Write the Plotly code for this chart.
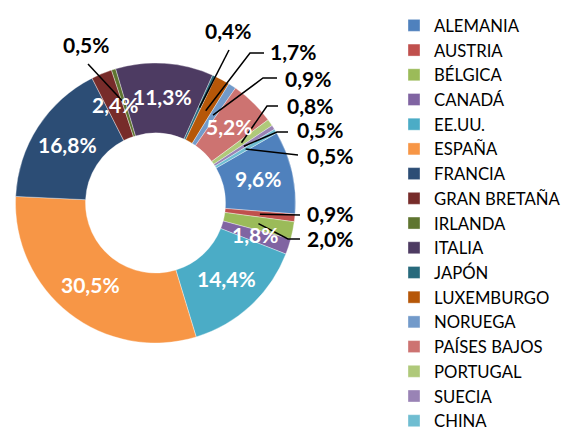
import math
import plotly.graph_objects as go

# ---- data ----
categories = ["ALEMANIA", "AUSTRIA", "BÉLGICA", "CANADÁ", "EE.UU.", "ESPAÑA", "FRANCIA",
              "GRAN BRETAÑA", "IRLANDA", "ITALIA", "JAPÓN", "LUXEMBURGO", "NORUEGA",
              "PAÍSES BAJOS", "PORTUGAL", "SUECIA", "CHINA"]
shares = [9.6, 0.9, 2.0, 1.8, 14.4, 30.5, 16.8, 2.4, 0.5, 11.3, 0.4, 1.7, 0.9, 5.2, 0.8, 0.5, 0.5]

# ---- styles / layout ----
colors = ["#4F81BD", "#C0504D", "#9BBB59", "#8064A2", "#4BACC6", "#F79646", "#2C4D75",
          "#772C2A", "#5F7530", "#4D3B62", "#276A7C", "#B65708", "#729ACA",
          "#CD7371", "#AFC97A", "#9983B5", "#6FBDD1"]
inside_labels = {"ALEMANIA", "CANADÁ", "EE.UU.", "ESPAÑA", "FRANCIA", "GRAN BRETAÑA",
                 "ITALIA", "PAÍSES BAJOS"}
# outside label layout in page pixels: text centre, then leader-line waypoints (after slice point)
outside_layout = {
    "IRLANDA":     dict(text=(86, 46),  path=[(88, 64)]),
    "JAPÓN":       dict(text=(228, 32), path=[(229, 50)]),
    "LUXEMBURGO":  dict(text=(293, 53), path=[(250, 53), (264, 53)]),
    "NORUEGA":     dict(text=(308, 80), path=[(263, 78), (277, 78)]),
    "PORTUGAL":    dict(text=(310, 107), path=[(267, 106), (278, 106)]),
    "SUECIA":      dict(text=(320, 131), path=[(277, 132), (288, 132)]),
    "CHINA":       dict(text=(330, 157), path=[(298, 155)]),
    "AUSTRIA":     dict(text=(330, 215), path=[(300, 215)]),
    "BÉLGICA":     dict(text=(330, 240), path=[(288, 239), (300, 239)]),
}

W, H = 581, 432
PAGE = 8          # default body margin of the html page
CX, CY, R = 155.5, 203.0, 140.0   # page pixels
HOLE = 0.5
ROTATION = 60
FONT = "Lato"
LABEL_SIZE = 21
TEXT_DY = -1.5

def px2paper(x, y):
    return (x - PAGE) / W, 1 - (y - PAGE) / H

fig = go.Figure(go.Pie(
    labels=categories,
    values=shares,
    marker=dict(colors=colors, line=dict(color="rgba(255,255,255,0.6)", width=0.6)),
    sort=False,
    direction="clockwise",
    rotation=ROTATION,
    hole=HOLE,
    textinfo="none",
    domain=dict(x=[px2paper(CX - R, 0)[0], px2paper(CX + R, 0)[0]],
                y=[px2paper(0, CY + R)[1], px2paper(0, CY - R)[1]]),
))

total = sum(shares)
rmid = R * (1 + HOLE) / 2
annotations = []
shapes = []
cum = 0.0
for cat, v in zip(categories, shares):
    mid = ROTATION + (cum + v / 2) / total * 360
    cum += v
    a = math.radians(mid)
    sx = CX + rmid * math.sin(a)
    sy = CY - rmid * math.cos(a)
    txt = f"{v:.1f}".replace(".", ",") + "%"
    if cat in inside_labels:
        x, y = px2paper(sx, sy + TEXT_DY)
        annotations.append(dict(x=x, y=y, xref="paper", yref="paper", text=txt,
                                showarrow=False, xanchor="center", yanchor="middle",
                                font=dict(family=FONT, size=LABEL_SIZE, color="white", weight="bold")))
    else:
        lay = outside_layout[cat]
        pts = [(sx, sy)] + lay["path"]
        p = " L ".join("{:.5f},{:.5f}".format(*px2paper(px, py)) for px, py in pts)
        shapes.append(dict(type="path", xref="paper", yref="paper", path="M " + p,
                           line=dict(color="black", width=1.5)))
        tx, ty = px2paper(lay["text"][0], lay["text"][1] + TEXT_DY)
        annotations.append(dict(x=tx, y=ty, xref="paper", yref="paper", text=txt,
                                showarrow=False, xanchor="center", yanchor="middle",
                                font=dict(family=FONT, size=LABEL_SIZE, color="black", weight="bold")))

lx = px2paper(394, 0)[0]
fig.update_layout(
    width=W, height=H,
    margin=dict(l=0, r=0, t=0, b=0, autoexpand=False),
    paper_bgcolor="white", plot_bgcolor="white",
    font=dict(family=FONT),
    showlegend=True,
    legend=dict(x=lx, xanchor="left", y=1, yanchor="top",
                font=dict(family=FONT, size=16.7, color="black"),
                bgcolor="rgba(0,0,0,0)", traceorder="normal"),
    annotations=annotations,
    shapes=shapes,
)

fig.write_html("out.html")
